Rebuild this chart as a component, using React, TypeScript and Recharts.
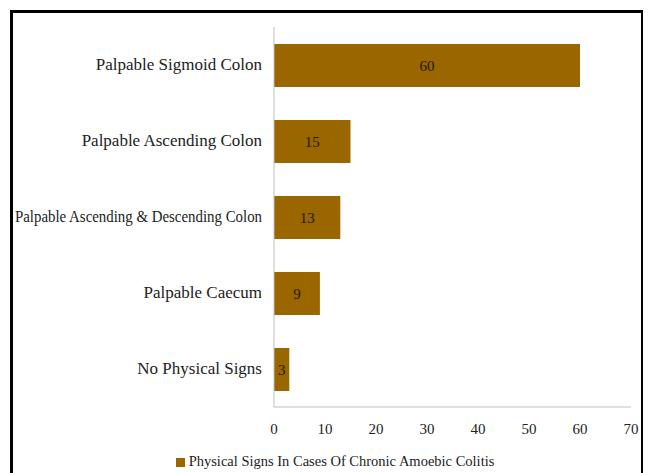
import { BarChart, Bar, XAxis, YAxis, Legend, LabelList } from 'recharts'

const categories = [
  'Palpable Sigmoid Colon',
  'Palpable Ascending Colon',
  'Palpable Ascending & Descending Colon',
  'Palpable Caecum',
  'No Physical Signs',
]
const counts = [60, 15, 13, 9, 3]
const xTicks = [0, 10, 20, 30, 40, 50, 60, 70]
const seriesName = 'Physical Signs In Cases Of Chronic Amoebic Colitis'

const data = categories.map((name, i) => ({ name, value: counts[i] }))

const font = '"Liberation Serif", "DejaVu Serif", serif'

function CategoryTick(props: any) {
  const { x, y, payload } = props
  const long = String(payload.value).length > 30
  return (
    <text
      x={x}
      y={y}
      dy={5}
      textAnchor="end"
      fill="#222"
      fontSize={17}
      fontFamily={font}
      {...(long ? { textLength: 247, lengthAdjust: 'spacingAndGlyphs' } : {})}
    >
      {payload.value}
    </text>
  )
}

export default function App() {
  return (
    <div
      style={{
        marginLeft: 2,
        marginTop: 2,
        width: 628,
        height: 470,
        border: '3px solid #000',
        background: '#fff',
        fontFamily: font,
      }}
    >
      <BarChart
        width={628}
        height={470}
        data={data}
        layout="vertical"
        margin={{ top: 14, right: 10, left: 0, bottom: 0 }}
        barSize={43}
      >
        <XAxis
          type="number"
          domain={[0, 70]}
          ticks={xTicks}
          tickLine={false}
          axisLine={{ stroke: '#bfbfbf' }}
          tick={{ fill: '#222', fontSize: 15, fontFamily: font }}
          tickMargin={10}
          height={46}
        />
        <YAxis
          type="category"
          dataKey="name"
          width={261}
          tickLine={false}
          axisLine={{ stroke: '#bfbfbf' }}
          tick={CategoryTick}
          tickMargin={6}
        />
        <Legend
          height={30}
          iconType="square"
          iconSize={9}
          wrapperStyle={{ fontSize: 14.5, fontFamily: font, color: '#222', left: 18 }}
          formatter={(v) => <span style={{ color: '#222' }}>{v}</span>}
        />
        <Bar dataKey="value" name={seriesName} fill="#996600" isAnimationActive={false}>
          <LabelList dataKey="value" position="center" fill="#1f1700" fontSize={15} fontFamily={font} />
        </Bar>
      </BarChart>
    </div>
  )
}
